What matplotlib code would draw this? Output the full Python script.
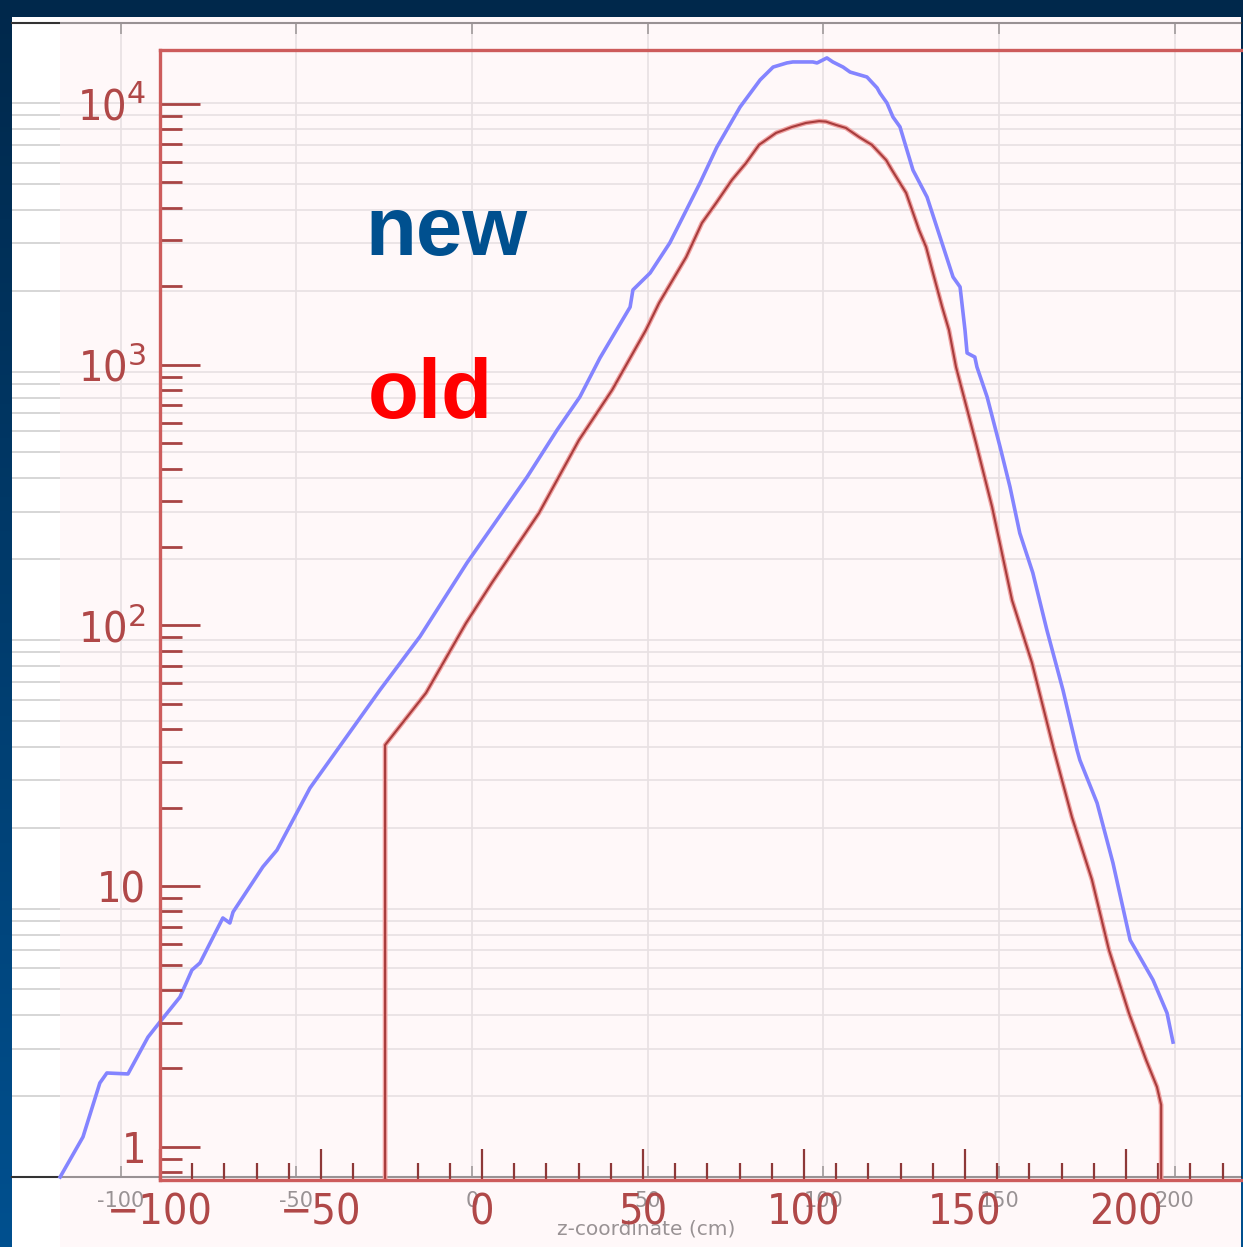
import numpy as np
import matplotlib
matplotlib.use('Agg')
import matplotlib.pyplot as plt
from matplotlib.patches import Rectangle
from matplotlib.colors import LinearSegmentedColormap
from matplotlib.ticker import LogLocator, MultipleLocator, NullFormatter

W, H = 1243, 1247

# "new" curve, read against the grey (underlying) axes: z (cm), counts
new_z = [-117.2, -110.7, -105.9, -103.9, -97.9, -92.2, -88.8, -83.1, -79.7, -77.4,
         -70.9, -68.9, -68.0, -59.5, -55.5, -46.1, -26.2, -14.8, -1.4, 15.7,
         24.2, 30.7, 36.4, 45.0, 45.8, 50.7, 56.3, 64.9, 69.7, 76.3,
         82.0, 85.7, 89.6, 91.3, 97.0, 98.2, 101.0, 102.7, 105.6, 107.6,
         112.4, 115.3, 116.1, 118.1, 119.8, 121.8, 125.5,
         129.5, 133.2, 136.9, 138.9, 140.3, 140.9, 143.1, 143.7, 146.6, 150.3,
         153.1, 155.9, 159.6, 163.6, 168.2, 172.2, 173.0, 177.9, 182.4, 187.3,
         193.8, 197.8, 199.5]
new_n = [1.0, 1.41, 2.24, 2.44, 2.42, 3.32, 3.78, 4.68, 5.90, 6.27,
         9.22, 8.83, 9.70, 14.3, 16.5, 28.1, 65.1, 103, 194, 405,
         605, 804, 1122, 1738, 2013, 2328, 3013, 5040, 6855, 9664,
         12190, 13610, 14100, 14220, 14220, 14100, 14720, 14220, 13610, 13040,
         12500, 11380, 10890, 10000, 8870, 8150, 5625,
         4465, 3170, 2249, 2065, 1428, 1172, 1132, 1040, 804, 523,
         372, 250, 178, 109, 65, 38.9, 35.7, 24.7, 14.8, 7.63,
         5.42, 4.08, 3.18]

# "old" curve, read against the red (overlaid) axes
old_z = [-30.1, -30.1, -17.4, -5.0, 3.1, 17.7, 30.1, 40.4, 50.9, 55.0,
         63.4, 68.3, 72.7, 77.6, 82.0, 86.0, 91.3, 96.3, 100.6, 104.7,
         106.8, 109.9, 113.0, 117.1, 121.1, 125.5, 127.3, 131.7, 135.7, 137.9,
         139.8, 142.9, 145.0, 147.2, 153.4, 158.4, 164.6, 170.8, 177.6, 183.2,
         189.4, 194.7, 200.9, 206.2, 209.6, 210.9, 210.9]
old_n = [0.5, 34.8, 55.1, 102, 146, 270, 514, 800, 1359, 1726,
         2588, 3498, 4171, 5113, 5939, 6966, 7745, 8168, 8459, 8600,
         8560, 8313, 8093, 7470, 6966, 6095, 5584, 4560, 3289, 2829,
         2308, 1665, 1359, 980, 501, 285, 125, 71.8, 33.3, 18.4,
         10.6, 5.69, 3.26, 2.16, 1.70, 1.45, 0.5]

grey_ticks = [-100, -50, 0, 50, 100, 150, 200]
grey_labels = ['-100', '-50', '0', '50', '100', '150', '200']
red_xticks = [-100, -50, 0, 50, 100, 150, 200]
red_xlabels = ['\u2212100', '\u221250', '0', '50', '100', '150', '200']
red_yticks = [1, 10, 100, 1000, 10000]
red_ylabels = ['1', '10', '10$^2$', '10$^3$', '10$^4$']


def box(l, t, r, b):
    return [l / W, 1 - b / H, (r - l) / W, (b - t) / H]


fig = plt.figure(figsize=(W / 100, H / 100), dpi=100)

# slide background
bg = fig.add_axes([0, 0, 1, 1], zorder=-2)
cmap = LinearSegmentedColormap.from_list('slide', ['#00284b', '#00508f'])
bg.imshow(np.linspace(0, 1, 256).reshape(-1, 1), aspect='auto', cmap=cmap,
          extent=[0, 1, 0, 1])
bg.axis('off')
fig.add_artist(Rectangle((12 / W, 0), (1241 - 12) / W, 1 - 17 / H,
                         transform=fig.transFigure, facecolor='white',
                         lw=0, zorder=-1))

# grey plot underneath
ax_g = fig.add_axes(box(12, 23, 1241, 1177), zorder=1)
ax_g.set_yscale('log')
ax_g.set_xlim(-130.9, 218.85)
ax_g.set_ylim(1, 19860)
ax_g.set_xticks(grey_ticks, grey_labels)
ax_g.yaxis.set_major_locator(LogLocator(base=10, numticks=10))
ax_g.yaxis.set_minor_locator(LogLocator(base=10, subs=np.arange(2, 10), numticks=10))
ax_g.set_axisbelow(True)
ax_g.grid(True, which='both', axis='y', color='#d0d0d0', lw=1.2)
ax_g.grid(True, which='major', axis='x', color='#d0d0d0', lw=1.2)
ax_g.tick_params(axis='x', direction='in', top=True, length=8, width=1.2,
                 color='#444444', labelsize=15, labelcolor='#333333', pad=10)
ax_g.tick_params(axis='y', which='both', length=0, labelleft=False)
for s in ['left', 'right']:
    ax_g.spines[s].set_visible(False)
for s in ['top', 'bottom']:
    ax_g.spines[s].set_color('#333333')
    ax_g.spines[s].set_linewidth(1.5)
fig.text(646 / W, 1 - 1229 / H, 'z-coordinate (cm)', ha='center', va='center',
         fontsize=14.5, color='#333333', zorder=1.2)

# pale overlay of the second picture
fig.add_artist(Rectangle((60 / W, 0), (1241 - 60) / W, 1 - 17 / H,
                         transform=fig.transFigure, facecolor='#fff2f5',
                         alpha=0.5, lw=0, zorder=1.5))

# blue curve on grey scale, drawn above the overlay
ax_b = fig.add_axes(box(12, 23, 1241, 1177), zorder=1.7)
ax_b.set_yscale('log')
ax_b.set_xlim(-130.9, 218.85)
ax_b.set_ylim(1, 19860)
ax_b.axis('off')
ax_b.plot(new_z, new_n, color='#8484ff', lw=2.6, clip_on=False)

# red plot on top
ax_r = fig.add_axes(box(160, 50, 1260, 1180), zorder=2)
ax_r.patch.set_visible(False)
ax_r.set_yscale('log')
ax_r.set_xlim(-100, 241.6)
ax_r.set_ylim(0.747, 16110)
ax_r.plot(old_z, old_n, color='#f0a3a3', lw=3.4)
ax_r.plot(old_z, old_n, color='#a83c3c', lw=1.5)
for s in ax_r.spines.values():
    s.set_color('#cd5c5c')
    s.set_linewidth(2.4)
ax_r.set_xticks(red_xticks, red_xlabels)
ax_r.xaxis.set_minor_locator(MultipleLocator(10))
ax_r.set_yticks(red_yticks, red_ylabels)
ax_r.yaxis.set_minor_locator(LogLocator(base=10, subs=np.arange(2, 10), numticks=12))
ax_r.yaxis.set_minor_formatter(NullFormatter())
ax_r.tick_params(axis='x', which='major', direction='in', length=22, width=1.6,
                 color='#8e3838', labelsize=31, labelcolor='#b04848', pad=8)
ax_r.tick_params(axis='x', which='minor', direction='in', length=12, width=1.6,
                 color='#8e3838')
ax_r.tick_params(axis='y', which='major', direction='in', length=29, width=2.0,
                 color='#a84444', labelsize=31, labelcolor='#b04848', pad=10)
ax_r.tick_params(axis='y', which='minor', direction='in', length=16, width=2.0,
                 color='#a84444')
for lab in ax_r.get_xticklabels() + ax_r.get_yticklabels():
    lab.set_family('DejaVu Sans')
    lab.set_fontstretch('condensed')

fig.text(365 / W, 1 - 255 / H, 'new', fontsize=60, fontweight='bold',
         color='#00508f', family=['Liberation Sans', 'DejaVu Sans'],
         ha='left', va='baseline', zorder=5)
fig.text(368 / W, 1 - 418 / H, 'old', fontsize=60, fontweight='bold',
         color='#ff0000', family=['Liberation Sans', 'DejaVu Sans'],
         ha='left', va='baseline', zorder=5)

fig.savefig('out.png', dpi=100)
